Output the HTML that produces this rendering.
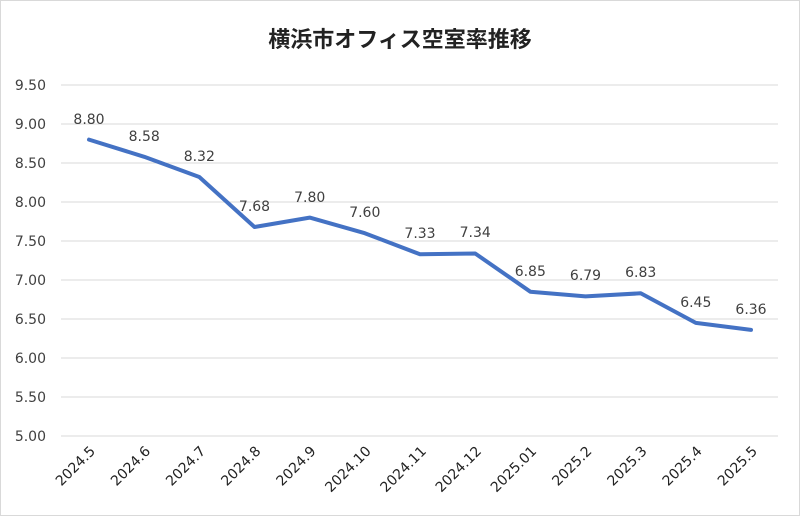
<!DOCTYPE html>
<html><head><meta charset="utf-8"><style>body{margin:0;background:#fff}svg{display:block}</style></head><body>
<svg width="800" height="516" xmlns="http://www.w3.org/2000/svg" font-family="'DejaVu Sans', 'Liberation Sans', sans-serif">
<rect x="0.5" y="0.5" width="799" height="515" fill="#fff" stroke="#d9d9d9"/>
<text x="400" y="47" text-anchor="middle" font-size="22" font-weight="bold" font-family="'Noto Sans CJK JP', sans-serif" fill="#222">横浜市オフィス空室率推移</text>
<g stroke="#d9d9d9" stroke-width="1">
<line x1="61" x2="778" y1="85" y2="85"/><line x1="61" x2="778" y1="124" y2="124"/><line x1="61" x2="778" y1="163" y2="163"/><line x1="61" x2="778" y1="202" y2="202"/><line x1="61" x2="778" y1="241" y2="241"/><line x1="61" x2="778" y1="280" y2="280"/><line x1="61" x2="778" y1="319" y2="319"/><line x1="61" x2="778" y1="358" y2="358"/><line x1="61" x2="778" y1="397" y2="397"/><line x1="61" x2="778" y1="436" y2="436"/>
</g>
<g font-size="14" fill="#404040" text-anchor="end">
<text x="46" y="90">9.50</text><text x="46" y="129">9.00</text><text x="46" y="168">8.50</text><text x="46" y="207">8.00</text><text x="46" y="246">7.50</text><text x="46" y="285">7.00</text><text x="46" y="324">6.50</text><text x="46" y="363">6.00</text><text x="46" y="402">5.50</text><text x="46" y="441">5.00</text>
</g>
<polyline fill="none" stroke="#4472c4" stroke-width="4" stroke-linejoin="round" stroke-linecap="round" points="89,139.6 144.2,156.8 199.3,177 254.5,227 309.7,217.6 364.8,233.2 420,254.3 475.2,253.5 530.3,291.7 585.5,296.4 640.7,293.3 695.8,322.9 751,329.9"/>
<g font-size="14" fill="#404040" text-anchor="middle">
<text x="89" y="124">8.80</text><text x="144.2" y="141">8.58</text><text x="199.3" y="161">8.32</text><text x="254.5" y="211">7.68</text><text x="309.7" y="202">7.80</text><text x="364.8" y="217">7.60</text><text x="420" y="238">7.33</text><text x="475.2" y="237">7.34</text><text x="530.3" y="276">6.85</text><text x="585.5" y="280">6.79</text><text x="640.7" y="277">6.83</text><text x="695.8" y="307">6.45</text><text x="751" y="314">6.36</text>
</g>
<g font-size="14" fill="#222" text-anchor="end">
<text transform="translate(96,452) rotate(-45)">2024.5</text>
<text transform="translate(151.2,452) rotate(-45)">2024.6</text>
<text transform="translate(206.3,452) rotate(-45)">2024.7</text>
<text transform="translate(261.5,452) rotate(-45)">2024.8</text>
<text transform="translate(316.7,452) rotate(-45)">2024.9</text>
<text transform="translate(371.8,452) rotate(-45)">2024.10</text>
<text transform="translate(427,452) rotate(-45)">2024.11</text>
<text transform="translate(482.2,452) rotate(-45)">2024.12</text>
<text transform="translate(537.3,452) rotate(-45)">2025.01</text>
<text transform="translate(592.5,452) rotate(-45)">2025.2</text>
<text transform="translate(647.7,452) rotate(-45)">2025.3</text>
<text transform="translate(702.8,452) rotate(-45)">2025.4</text>
<text transform="translate(758,452) rotate(-45)">2025.5</text>
</g>
</svg>
</body></html>
